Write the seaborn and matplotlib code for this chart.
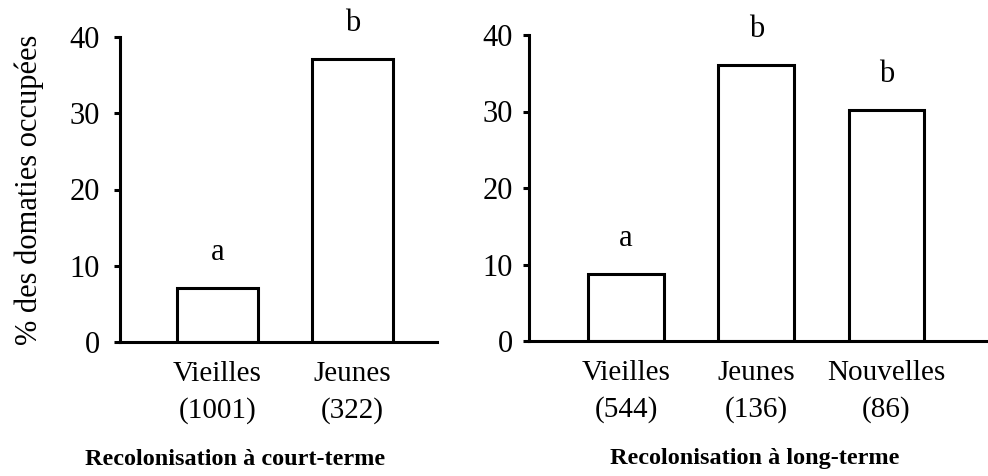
import matplotlib
matplotlib.use("Agg")
import pandas as pd
import seaborn as sns
import matplotlib.pyplot as plt

court_cats = ["Vieilles", "Jeunes"]
court_n = [1001, 322]
court_pct = [7.1, 37.1]
court_letters = ["a", "b"]

long_cats = ["Vieilles", "Jeunes", "Nouvelles"]
long_n = [544, 136, 86]
long_pct = [8.8, 36.1, 30.2]
long_letters = ["a", "b", "b"]

yticks = [0, 10, 20, 30, 40]

sns.set_style("ticks")
plt.rcParams["font.family"] = ["Liberation Serif", "DejaVu Serif"]
plt.rcParams["text.color"] = "black"
plt.rcParams["axes.labelcolor"] = "black"
plt.rcParams["xtick.color"] = "black"
plt.rcParams["ytick.color"] = "black"
plt.rcParams["axes.edgecolor"] = "black"

fig = plt.figure(figsize=(9.88, 4.76), dpi=100)
ax1 = fig.add_axes([120 / 988, 1 - 342 / 476, 317 / 988, 305 / 476])
ax2 = fig.add_axes([529 / 988, 1 - 341 / 476, 459 / 988, 306 / 476])


def draw(ax, cats, n, pct, letters, title, xlim, title_x, width, ypad):
    labels = [f"{c}\n({k})" for c, k in zip(cats, n)]
    df = pd.DataFrame({"cat": labels, "pct": pct})
    sns.barplot(data=df, x="cat", y="pct", ax=ax, color="white",
                edgecolor="black", linewidth=2.2, width=width, saturation=1)
    for i, (v, lt) in enumerate(zip(pct, letters)):
        ax.annotate(lt, (i, v), xytext=(0, 20), textcoords="offset points",
                    ha="center", va="baseline", fontsize=22)
    ax.set_ylim(0, 40)
    ax.set_xlim(*xlim)
    ax.set_yticks(yticks)
    ax.set_xlabel("")
    ax.set_ylabel("")
    for s in ["top", "right"]:
        ax.spines[s].set_visible(False)
    for s in ["left", "bottom"]:
        ax.spines[s].set_linewidth(2.2)
    ax.tick_params(axis="y", direction="out", length=4.5, width=2.2, labelsize=22, pad=ypad)
    ax.tick_params(axis="x", length=0, labelsize=21, pad=14)
    for t in ax.get_xticklabels():
        t.set_linespacing(1.45)
    ax.text(title_x, -0.385, title, transform=ax.transAxes, ha="center",
            va="center", fontsize=17.5, fontweight="bold", clip_on=False)
    ax.set_facecolor("white")


draw(ax1, court_cats, court_n, court_pct, court_letters,
     "Recolonisation à court-terme", (-0.722, 1.626), 0.363, 0.6, 10)
draw(ax2, long_cats, long_n, long_pct, long_letters,
     "Recolonisation à long-terme", (-0.745, 2.78), 0.492, 0.58, 7)

ax1.set_ylabel("% des domaties occupées", fontsize=22, labelpad=18)

fig.savefig("out.png", dpi=100, facecolor="white")
